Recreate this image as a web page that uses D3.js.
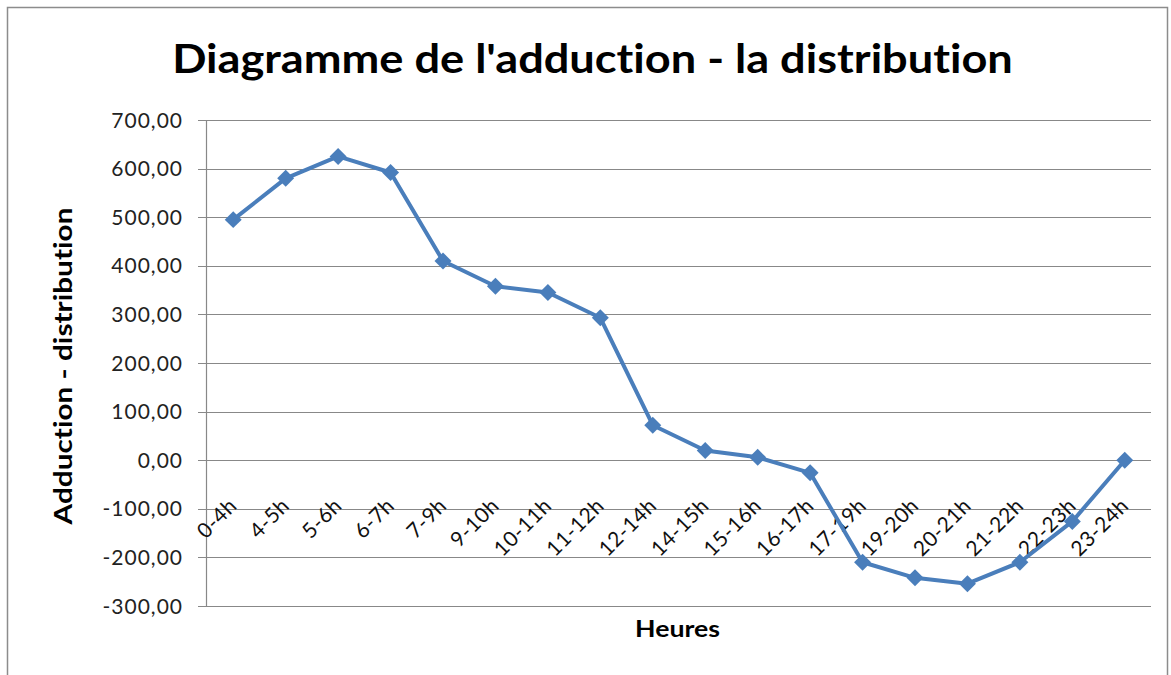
<!DOCTYPE html>
<html>
<head>
<meta charset="utf-8">
<script src="https://cdn.jsdelivr.net/npm/d3@7"></script>
<style>
  body { margin: 0; background: #fff; }
  svg { display: block; font-family: Lato, "Open Sans", sans-serif; font-variant-ligatures: none; }
</style>
</head>
<body>
<div id="chart"></div>
<script>
// données
const heures = ["0-4h", "4-5h", "5-6h", "6-7h", "7-9h", "9-10h", "10-11h", "11-12h", "12-14h",
  "14-15h", "15-16h", "16-17h", "17-19h", "19-20h", "20-21h", "21-22h", "22-23h", "23-24h"];
const valeurs = [495, 580, 625, 592, 410, 358, 345, 293, 72, 20, 6, -26, -210, -242, -254, -210, -126, 0];
const yTicks = [700, 600, 500, 400, 300, 200, 100, 0, -100, -200, -300];

const width = 1171, height = 675;
const margin = { top: 120, right: 20, bottom: 69, left: 207 };

const svg = d3.select("#chart").append("svg")
  .attr("width", width)
  .attr("height", height);

// cadre
svg.append("rect")
  .attr("x", 7.5).attr("y", 7.5)
  .attr("width", 1160).attr("height", 700)
  .attr("fill", "none")
  .attr("stroke", "#8c8c8c")
  .attr("stroke-width", 1.5);

const x = d3.scaleBand()
  .domain(heures)
  .range([margin.left, width - margin.right]);

const y = d3.scaleLinear()
  .domain([-300, 700])
  .range([height - margin.bottom, margin.top]);

const fmt = d => d3.format(".2f")(d).replace(".", ",").replace("\u2212", "-");

// grille
svg.append("g")
  .selectAll("line")
  .data(yTicks)
  .join("line")
  .attr("x1", margin.left - 9)
  .attr("x2", width - margin.right)
  .attr("y1", d => Math.round(y(d)) + 0.5)
  .attr("y2", d => Math.round(y(d)) + 0.5)
  .attr("stroke", "#888")
  .attr("stroke-width", 1.2);

// axe vertical
svg.append("line")
  .attr("x1", margin.left - 0.5).attr("x2", margin.left - 0.5)
  .attr("y1", y(700)).attr("y2", y(-300))
  .attr("stroke", "#888")
  .attr("stroke-width", 1.2);

// étiquettes Y
svg.append("g")
  .selectAll("text")
  .data(yTicks)
  .join("text")
  .attr("x", margin.left - 24)
  .attr("y", d => y(d))
  .attr("dy", "0.36em")
  .attr("text-anchor", "end")
  .attr("font-size", 21)
  .attr("letter-spacing", 1)
  .attr("fill", "#222")
  .text(fmt);

// étiquettes X
svg.append("g")
  .selectAll("text")
  .data(heures)
  .join("text")
  .attr("transform", d => `translate(${x(d) + x.bandwidth() / 2 + 5},${y(0) + 47}) rotate(-45)`)
  .attr("text-anchor", "end")
  .attr("font-size", 21)
  .attr("letter-spacing", 0.5)
  .attr("fill", "#111")
  .text(d => d);

// ligne
const line = d3.line()
  .x((d, i) => x(heures[i]) + x.bandwidth() / 2)
  .y(d => y(d));

svg.append("path")
  .datum(valeurs)
  .attr("d", line)
  .attr("fill", "none")
  .attr("stroke", "#4a7ebb")
  .attr("stroke-width", 4)
  .attr("stroke-linejoin", "round");

// marqueurs
svg.append("g")
  .selectAll("path")
  .data(valeurs)
  .join("path")
  .attr("d", d3.symbol(d3.symbolSquare, 144))
  .attr("transform", (d, i) => `translate(${x(heures[i]) + x.bandwidth() / 2},${y(d)}) rotate(45)`)
  .attr("fill", "#4a7ebb");

// titre étiré horizontalement pour occuper la largeur voulue
function titre(txt, cx, cy, angle, size, longueur) {
  const g = svg.append("g").attr("transform", `translate(${cx},${cy}) rotate(${angle})`);
  const t = g.append("text")
    .attr("text-anchor", "middle")
    .attr("font-size", size)
    .attr("font-weight", "bold")
    .attr("fill", "#000")
    .text(txt);
  const w = t.node().getComputedTextLength();
  t.attr("transform", `scale(${longueur / w},1)`);
}

titre("Diagramme de l'adduction - la distribution", 592.5, 73, 0, 41, 841);
titre("Adduction - distribution", 72, 366, -90, 25, 317);
titre("Heures", 677.5, 637, 0, 23, 85);
</script>
</body>
</html>
